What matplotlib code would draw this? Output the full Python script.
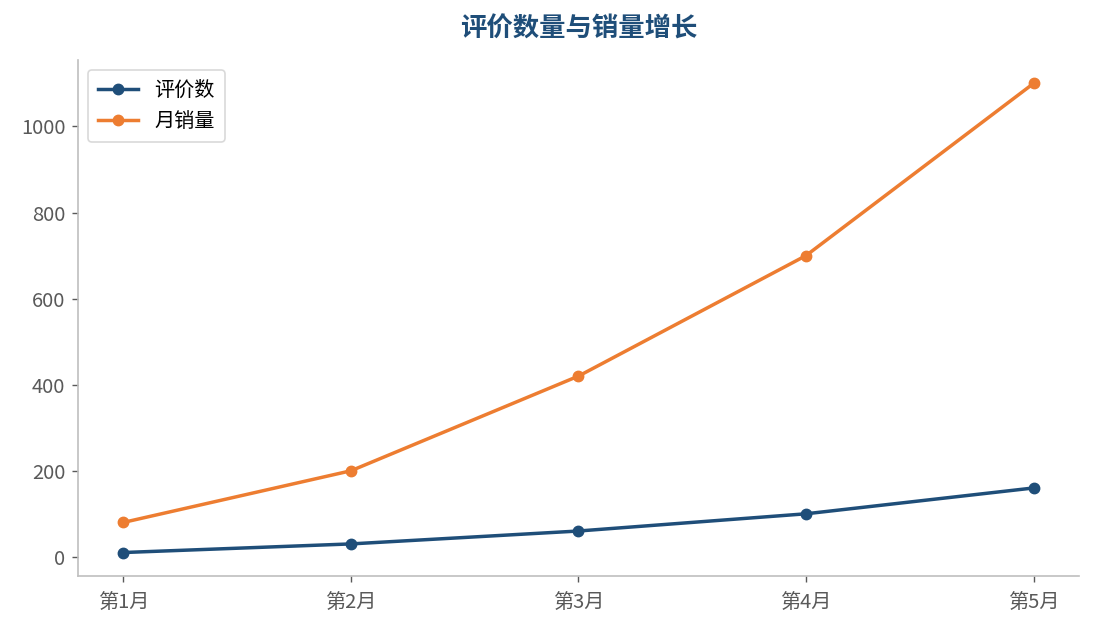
import matplotlib
matplotlib.use("Agg")
import matplotlib.pyplot as plt

plt.rcParams['font.family'] = ['Noto Sans CJK SC', 'DejaVu Sans']

months = ["第1月", "第2月", "第3月", "第4月", "第5月"]
reviews = [10, 30, 60, 100, 160]
sales = [80, 200, 420, 700, 1100]

fig = plt.figure(figsize=(10.95, 6.29), dpi=100)
ax = fig.add_axes([0.0712, 0.0843, 0.9142, 0.8203])

ax.plot(months, reviews, color="#1f4e79", lw=2.5, marker="o", ms=7.5, label="评价数")
ax.plot(months, sales, color="#ed7d31", lw=2.5, marker="o", ms=7.5, label="月销量")

ax.set_title("评价数量与销量增长", fontsize=19, fontweight="bold", color="#1f4e79", pad=17)
for s in ["top", "right"]:
    ax.spines[s].set_visible(False)
for s in ["left", "bottom"]:
    ax.spines[s].set_color("#bfbfbf")
    ax.spines[s].set_linewidth(1.2)
ax.tick_params(colors="#595959", labelsize=14.5, length=4, width=1, pad=5)
ax.tick_params(axis="x", pad=8)
ax.set_yticks([0, 200, 400, 600, 800, 1000])
leg = ax.legend(loc="upper left", fontsize=14.5, frameon=True, edgecolor="#d0d0d0", fancybox=True,
                borderaxespad=0.5, borderpad=0.5)
leg.get_frame().set_linewidth(1.2)
for t in leg.get_texts():
    t.set_color("#000000")

fig.savefig("out.png", dpi=100)
